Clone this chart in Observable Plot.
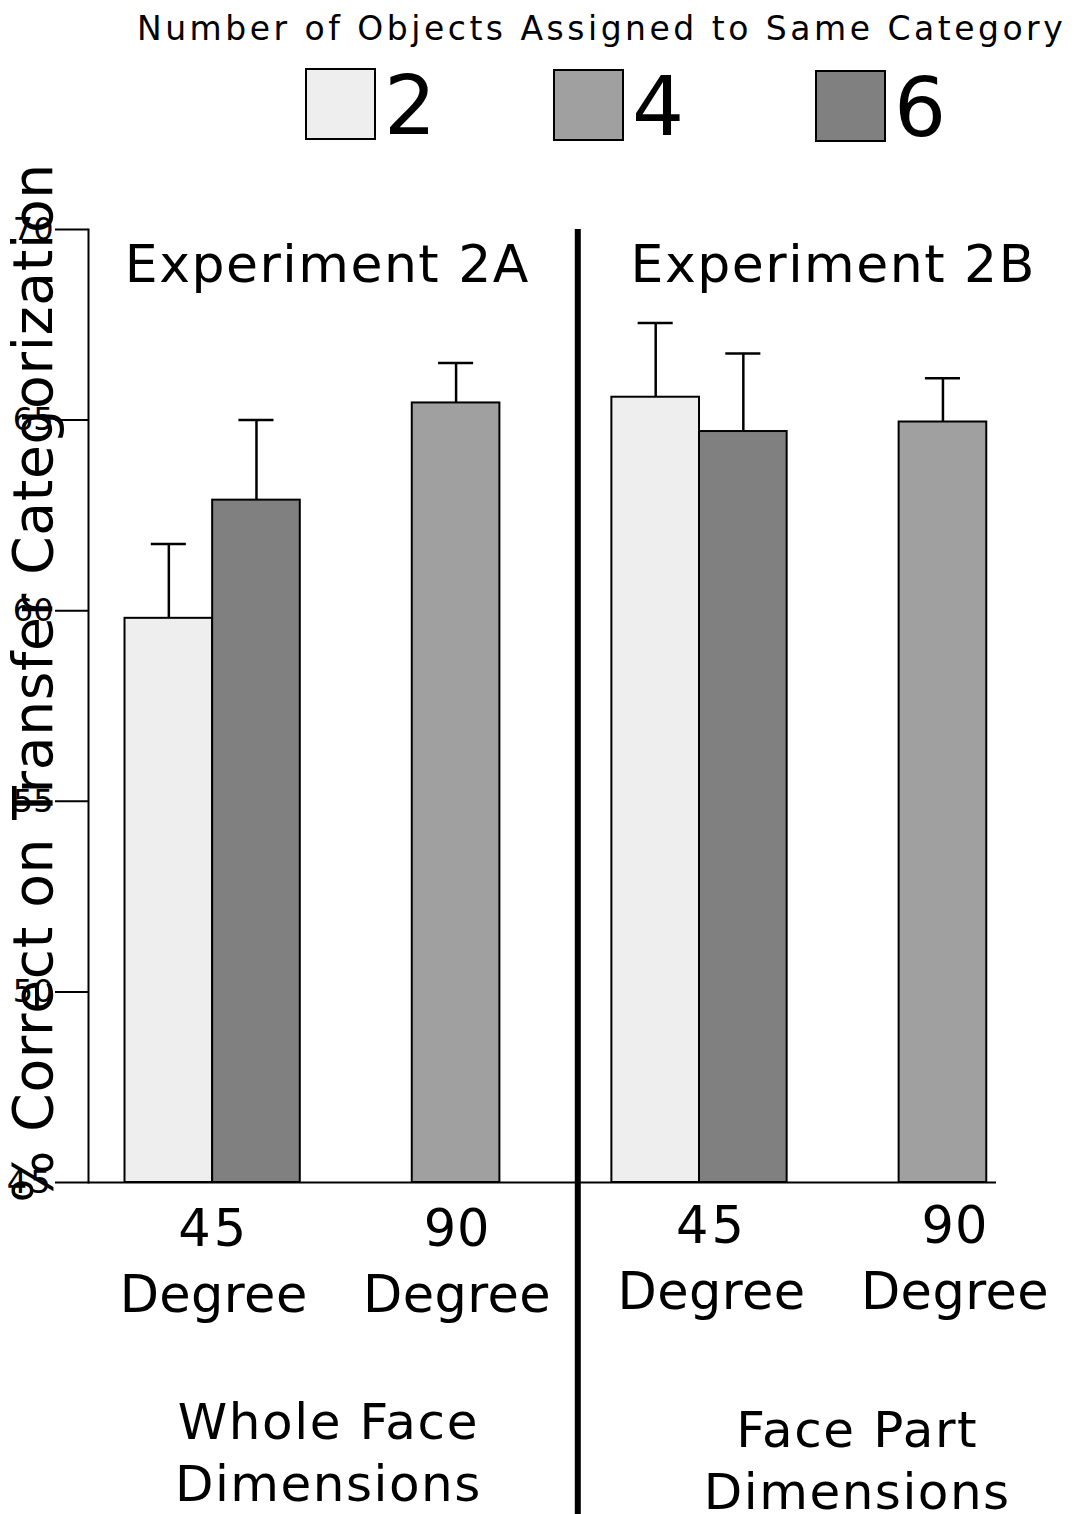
<!DOCTYPE html>
<html><head><meta charset="utf-8">
<script src="https://cdn.jsdelivr.net/npm/d3@7"></script>
<script src="https://cdn.jsdelivr.net/npm/@observablehq/plot@0.6"></script>
<style>
body{margin:0;background:#fff;font-family:"DejaVu Sans",sans-serif;color:#000;}
#legend{position:relative;width:1074px;height:160px;overflow:hidden;}
#legend .title{position:absolute;left:137px;top:12px;font-size:33px;line-height:1;letter-spacing:3.5px;white-space:nowrap;}
#legend .sw{position:absolute;box-sizing:border-box;width:71px;height:72px;border:2px solid #000;}
#legend .lab{position:absolute;font-size:82px;line-height:1;}
#chart svg{display:block;}
</style></head><body>
<div id="legend"></div>
<div id="chart"></div>
<script>
// ---- data ----
const experiments = ["2A", "2A", "2A", "2B", "2B", "2B"];
const angles = [45, 45, 90, 45, 45, 90];
const objectCounts = [2, 6, 4, 2, 6, 4];
const meanPct = [59.8, 62.9, 65.45, 65.6, 64.7, 64.95];
const sePct = [1.95, 2.1, 1.05, 1.95, 2.05, 1.15];
const objectLevels = [2, 4, 6];
const yTicks = [45, 50, 55, 60, 65, 70];
const groupOrder = ["2A|45", "2A|90", "2B|45", "2B|90"];
const groupLabels = ["45\nDegree", "90\nDegree", "45\nDegree", "90\nDegree"];
const experimentIds = ["2A", "2B"];
const experimentTitles = ["Experiment 2A", "Experiment 2B"];
const dimensionLabels = ["Whole Face\nDimensions", "Face Part\nDimensions"];
const legendTitle = "Number of Objects Assigned to Same Category";
const yTitle = "% Correct on Transfer Categorization";

const fills = ["#eeeeee", "#a0a0a0", "#808080"];
const legendLefts = [305, 553, 815];

// ---- legend (HTML above the SVG) ----
const legend = document.getElementById("legend");
const t = document.createElement("div");
t.className = "title"; t.textContent = legendTitle; legend.appendChild(t);
objectLevels.forEach((lv, i) => {
  const left = legendLefts[i];
  const sw = document.createElement("div");
  sw.className = "sw"; sw.style.left = left + "px"; sw.style.top = (68 + i) + "px";
  sw.style.background = fills[i];
  legend.appendChild(sw);
  const lab = document.createElement("div");
  lab.className = "lab"; lab.style.left = (left + 79) + "px"; lab.style.top = (65 + i) + "px";
  lab.textContent = String(lv);
  legend.appendChild(lab);
});

// ---- bar rows ----
const BAR_W = 0.36;
const keys = experiments.map((e, i) => e + "|" + angles[i]);
const rows = keys.map((k, i) => {
  const g = groupOrder.indexOf(k);
  const members = keys.map((kk, j) => kk === k ? j : -1).filter(j => j >= 0);
  const n = members.length, slot = members.indexOf(i);
  const x1 = g - n * BAR_W / 2 + slot * BAR_W;
  return {exp: experiments[i], angle: angles[i], objects: objectCounts[i],
          mean: meanPct[i], se: sePct[i], x1, x2: x1 + BAR_W, xc: x1 + BAR_W / 2};
});
const groupRows = groupOrder.map((g, i) => ({i, exp: g.split("|")[0], label: groupLabels[i]}));
const expRows = experimentIds.map((e, k) => {
  const idx = groupOrder.map((g, i) => g.startsWith(e + "|") ? i : null).filter(v => v !== null);
  return {exp: e, x: d3.mean(idx), title: experimentTitles[k], dims: dimensionLabels[k]};
});
const byExp = (arr, e) => arr.filter(d => d.exp === e);

const plot = Plot.plot({
  width: 1074, height: 1354,
  marginLeft: 88, marginRight: 78, marginTop: 69, marginBottom: 332,
  style: {fontFamily: "DejaVu Sans", fontSize: "32px", color: "#000", background: "#fff", overflow: "visible"},
  x: {domain: [-0.51, 3.22], axis: null},
  y: {domain: [45, 70]},
  color: {domain: objectLevels, range: fills},
  marks: [
    Plot.axisY({ticks: yTicks, tickSize: 33, tickPadding: 2, fontSize: 32, label: null, strokeWidth: 2}),
    Plot.rect(rows, {x1: "x1", x2: "x2", y1: 45, y2: "mean", fill: "objects", stroke: "#000", strokeWidth: 2}),
    Plot.ruleX(rows, {x: "xc", y1: "mean", y2: d => d.mean + d.se, stroke: "#000", strokeWidth: 2.5}),
    Plot.ruleY(rows, {y: d => d.mean + d.se, x1: d => d.xc - 0.072, x2: d => d.xc + 0.072, stroke: "#000", strokeWidth: 2.5}),
    Plot.frame({anchor: "left", stroke: "#000", strokeWidth: 2}),
    Plot.ruleY([45], {stroke: "#000", strokeWidth: 2}),
    Plot.ruleX([1.5], {y1: 70, y2: 45, insetBottom: -332, stroke: "#000", strokeWidth: 6}),
    Plot.text(byExp(groupRows, "2A"), {x: "i", text: "label", frameAnchor: "bottom", lineAnchor: "top", dy: 16, dx: 1, fontSize: 51, lineHeight: 1.3, fill: "#000"}),
    Plot.text(byExp(groupRows, "2B"), {x: "i", text: "label", frameAnchor: "bottom", lineAnchor: "top", dy: 13, dx: 12, fontSize: 51, lineHeight: 1.3, fill: "#000"}),
    Plot.text(byExp(expRows, "2A"), {x: "x", text: "title", frameAnchor: "top", lineAnchor: "top", dy: 16, dx: -7, fontSize: 52, fill: "#000"}),
    Plot.text(byExp(expRows, "2B"), {x: "x", text: "title", frameAnchor: "top", lineAnchor: "top", dy: 16, dx: 12, fontSize: 52, fill: "#000"}),
    Plot.text(byExp(expRows, "2A"), {x: "x", text: "dims", frameAnchor: "bottom", lineAnchor: "top", dy: 212, dx: -6, fontSize: 50, lineHeight: 1.24, fill: "#000"}),
    Plot.text(byExp(expRows, "2B"), {x: "x", text: "dims", frameAnchor: "bottom", lineAnchor: "top", dy: 220, dx: 36, fontSize: 50, lineHeight: 1.24, fill: "#000"}),
    Plot.text([yTitle], {frameAnchor: "left", textAnchor: "middle", lineAnchor: "middle", rotate: -90, dx: -54, dy: -23, fontSize: 55, fill: "#000"})
  ]
});
// letter spacing to mimic the wide original face
const spacing = new Map([
  ["Experiment 2A", "1.5px"], ["Experiment 2B", "1.5px"],
  ["Whole Face", "1.6px"], ["Dimensions", "1.5px"], ["Face Part", "1.6px"],
  [yTitle, "0.7px"], ["45", "3px"], ["90", "1px"], ["Degree", "0.4px"]
]);
d3.select(plot).selectAll("text, tspan").each(function() {
  const s = spacing.get(this.textContent);
  if (s) this.style.letterSpacing = s;
});
document.getElementById("chart").appendChild(plot);
</script>
</body></html>
